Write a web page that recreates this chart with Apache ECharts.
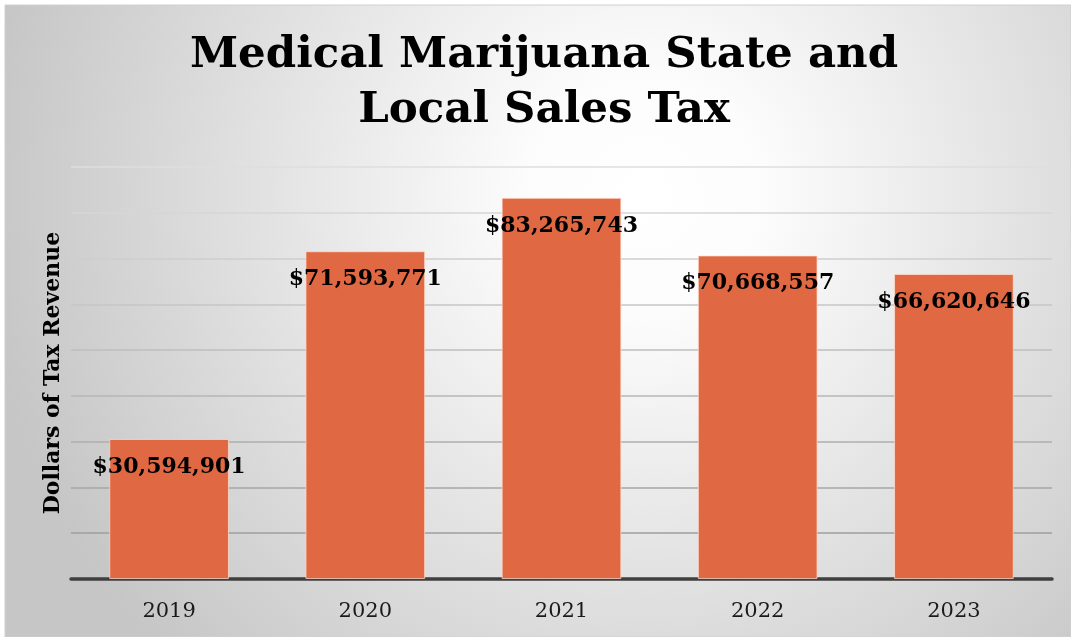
<!DOCTYPE html>
<html>
<head>
<meta charset="utf-8">
<script src="https://cdn.jsdelivr.net/npm/echarts@6/dist/echarts.min.js"></script>
<style>
  html, body { margin: 0; padding: 0; background: #ffffff; }
  #chart { width: 1071px; height: 637px; }
</style>
</head>
<body>
<div id="chart"></div>
<script>
// Fiscal years and medical marijuana state + local sales tax collected (USD)
const years = ['2019', '2020', '2021', '2022', '2023'];
const taxRevenue = [30594901, 71593771, 83265743, 70668557, 66620646];

// Value axis range (hidden tick labels, gridlines every 10 million)
const axisMin = 0;
const axisMax = 90000000;
const axisStep = 10000000;

const titleLines = ['Medical Marijuana State and', 'Local Sales Tax'];
const yAxisTitle = 'Dollars of Tax Revenue';

const fmtDollars = v => '$' + v.toLocaleString('en-US');

const chart = echarts.init(document.getElementById('chart'), null, { renderer: 'canvas' });

chart.setOption({
  animation: false,
  title: {
    text: titleLines.join('\n'),
    left: 539,
    textAlign: 'center',
    top: 23,
    textStyle: {
      fontFamily: '"DejaVu Serif", serif',
      fontWeight: 'bold',
      fontSize: 43.5,
      lineHeight: 55,
      color: '#000000'
    }
  },
  graphic: [
    {
      type: 'rect',
      z: -100,
      silent: true,
      shape: { x: 5, y: 5, width: 1066, height: 632 },
      style: {
        fill: {
          type: 'radial',
          x: 0.6, y: 0.3, r: 1.05,
          colorStops: [
            { offset: 0, color: '#ffffff' },
            { offset: 0.18, color: '#fcfcfc' },
            { offset: 1, color: '#c6c6c6' }
          ]
        },
        stroke: '#d0d0d0',
        lineWidth: 1
      }
    },
    {
      type: 'text',
      silent: true,
      x: 53,
      y: 373,
      rotation: Math.PI / 2,
      style: {
        text: yAxisTitle,
        font: 'bold 22px "DejaVu Serif", serif',
        fill: '#000000',
        textAlign: 'center',
        textVerticalAlign: 'middle'
      }
    }
  ],
  grid: { left: 71, right: 19, top: 167, bottom: 58, containLabel: false },
  xAxis: {
    type: 'category',
    data: years,
    axisTick: { show: false },
    axisLine: { show: true, lineStyle: { color: '#3f3f3f', width: 3.5 } },
    axisLabel: {
      margin: 22,
      fontFamily: '"DejaVu Serif", serif',
      fontSize: 21,
      color: '#1a1a1a'
    }
  },
  yAxis: {
    type: 'value',
    min: axisMin,
    max: axisMax,
    interval: axisStep,
    axisLine: { show: false },
    axisTick: { show: false },
    axisLabel: { show: false },
    splitLine: {
      show: true,
      lineStyle: {
        width: 1.5,
        color: {
          type: 'linear',
          global: true,
          x: 0, y: 167, x2: 0, y2: 579,
          colorStops: [
            { offset: 0, color: '#dedede' },
            { offset: 1, color: '#969696' }
          ]
        }
      }
    }
  },
  series: [
    {
      type: 'bar',
      data: taxRevenue,
      barCategoryGap: '39%',
      itemStyle: {
        color: '#E06843',
        borderColor: 'rgba(255, 225, 210, 0.7)',
        borderWidth: 1
      },
      label: {
        show: true,
        position: 'insideTop',
        distance: 17,
        overflow: 'none',
        formatter: p => fmtDollars(p.value),
        fontFamily: '"DejaVu Serif", serif',
        fontWeight: 'bold',
        fontSize: 22,
        color: '#000000'
      }
    }
  ]
});
</script>
</body>
</html>
